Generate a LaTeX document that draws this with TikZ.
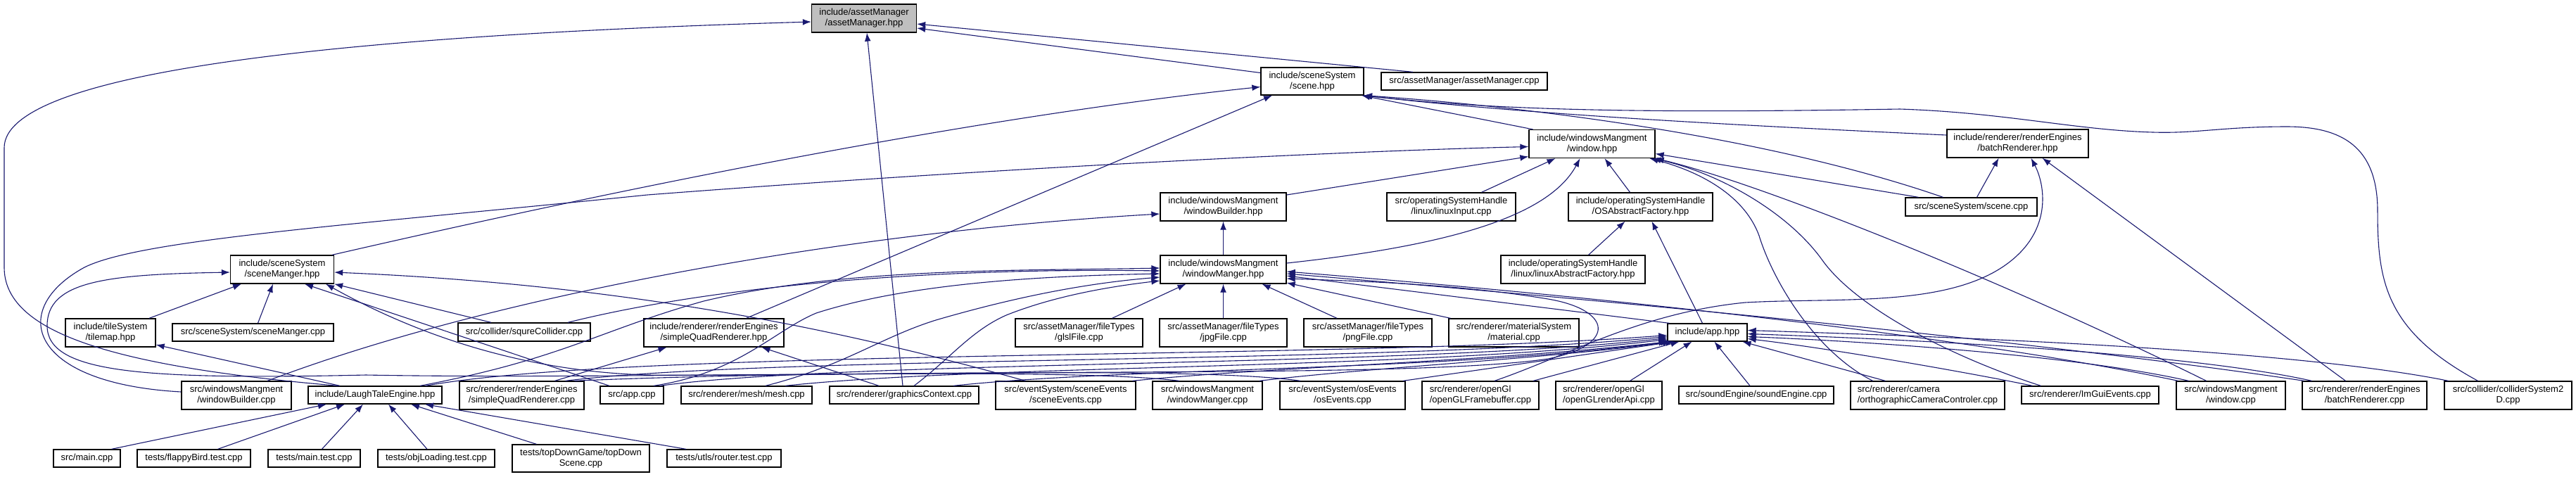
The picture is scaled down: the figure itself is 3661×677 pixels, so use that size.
\documentclass[tikz,border=0pt]{standalone}
\usepackage{fontspec}
\setmainfont{Liberation Sans}
\usetikzlibrary{arrows.meta}
\definecolor{edgeblue}{RGB}{25,25,112}
\definecolor{rootgray}{RGB}{191,191,191}
\newcommand{\ptN}[2]{([shift={(#2,0)}]#1.north)}
\newcommand{\ptS}[2]{([shift={(#2,0)}]#1.south)}
\newcommand{\ptW}[2]{([shift={(0,#2)}]#1.west)}
\newcommand{\ptE}[2]{([shift={(0,#2)}]#1.east)}
\begin{document}
\begin{tikzpicture}[x=0.5pt,y=-0.5pt,
  box/.style={draw=black,line width=0.65pt,fill=white,rectangle,inner sep=0pt,align=center,font=\fontsize{6.5}{7.5}\selectfont},
  lbox/.style={box,align=left},
  edge/.style={draw=edgeblue,line width=0.55pt,-{Latex[length=6pt,width=4.4pt]}},
]
\fill[white] (0,0) rectangle (3661,677);
\useasboundingbox (0,0) rectangle (3661,677);

% ---------- nodes ----------
\node[box,fill=rootgray,minimum width=74.5pt,minimum height=20pt] (am) at (1228,26) {include/assetManager\\/assetManager.hpp};
\node[box,minimum width=73pt,minimum height=19.5pt] (sc) at (1865,115.5) {include/sceneSystem\\/scene.hpp};
\node[box,minimum width=118pt,minimum height=12.5pt] (amcpp) at (2081,115.5) {src/assetManager/assetManager.cpp};
\node[box,minimum width=89.5pt,minimum height=20pt] (win) at (2262.5,204.5) {include/windowsMangment\\/window.hpp};
\node[box,minimum width=100.5pt,minimum height=20pt] (br) at (2867.5,204) {include/renderer/renderEngines\\/batchRenderer.hpp};
\node[box,minimum width=89.5pt,minimum height=20pt] (wbh) at (1738.5,294) {include/windowsMangment\\/windowBuilder.hpp};
\node[box,minimum width=91.5pt,minimum height=20pt] (lin) at (2062.5,294) {src/operatingSystemHandle\\/linux/linuxInput.cpp};
\node[box,minimum width=102.5pt,minimum height=20pt] (osf) at (2331.5,294) {include/operatingSystemHandle\\/OSAbstractFactory.hpp};
\node[box,minimum width=93.5pt,minimum height=13pt] (scpp) at (2801.5,294) {src/sceneSystem/scene.cpp};
\node[box,minimum width=73.5pt,minimum height=20pt] (smh) at (401,383) {include/sceneSystem\\/sceneManger.hpp};
\node[box,minimum width=89.5pt,minimum height=20pt] (wmh) at (1738.5,383) {include/windowsMangment\\/windowManger.hpp};
\node[box,minimum width=102.5pt,minimum height=20pt] (laf) at (2235.5,383) {include/operatingSystemHandle\\/linux/linuxAbstractFactory.hpp};
\node[box,minimum width=64pt,minimum height=20pt] (tm) at (157,473) {include/tileSystem\\/tilemap.hpp};
\node[box,minimum width=114.5pt,minimum height=12.5pt] (smcpp) at (359.5,472.5) {src/sceneSystem/sceneManger.cpp};
\node[box,minimum width=94pt,minimum height=13pt] (sq) at (745,472) {src/collider/squreCollider.cpp};
\node[box,minimum width=99.5pt,minimum height=20pt] (sqh) at (1014.5,473) {include/renderer/renderEngines\\/simpleQuadRenderer.hpp};
\node[box,minimum width=90.5pt,minimum height=20pt] (gl) at (1533.5,473) {src/assetManager/fileTypes\\/glslFile.cpp};
\node[box,minimum width=90.5pt,minimum height=20pt] (jpg) at (1738.5,473) {src/assetManager/fileTypes\\/jpgFile.cpp};
\node[box,minimum width=91pt,minimum height=20pt] (png) at (1944,473) {src/assetManager/fileTypes\\/pngFile.cpp};
\node[box,minimum width=92.5pt,minimum height=20pt] (mat) at (2151.5,473) {src/renderer/materialSystem\\/material.cpp};
\node[box,minimum width=56.5pt,minimum height=12.5pt] (app) at (2426.5,472.5) {include/app.hpp};
\node[box,minimum width=78pt,minimum height=20pt] (wbcpp) at (336,562) {src/windowsMangment\\/windowBuilder.cpp};
\node[box,minimum width=95pt,minimum height=12.5pt] (lte) at (533,561.5) {include/LaughTaleEngine.hpp};
\node[box,minimum width=88.5pt,minimum height=20pt] (sqcpp) at (741.5,562) {src/renderer/renderEngines\\/simpleQuadRenderer.cpp};
\node[box,minimum width=45pt,minimum height=12.5pt] (appcpp) at (898,561.5) {src/app.cpp};
\node[box,minimum width=93pt,minimum height=12.5pt] (mesh) at (1061,561.5) {src/renderer/mesh/mesh.cpp};
\node[box,minimum width=106pt,minimum height=12.5pt] (gc) at (1285,561.5) {src/renderer/graphicsContext.cpp};
\node[box,minimum width=99.5pt,minimum height=20pt] (se) at (1514.5,562) {src/eventSystem/sceneEvents\\/sceneEvents.cpp};
\node[box,minimum width=78pt,minimum height=20pt] (wmcpp) at (1716,562) {src/windowsMangment\\/windowManger.cpp};
\node[box,minimum width=89pt,minimum height=20pt] (ose) at (1908,562) {src/eventSystem/osEvents\\/osEvents.cpp};
\node[lbox,minimum width=83pt,minimum height=20pt] (fb) at (2104,562) {src/renderer/openGl\\/openGLFramebuffer.cpp};
\node[lbox,minimum width=75.5pt,minimum height=20pt] (ra) at (2286.5,562) {src/renderer/openGl\\/openGLrenderApi.cpp};
\node[box,minimum width=110pt,minimum height=12.5pt] (snd) at (2496,561.5) {src/soundEngine/soundEngine.cpp};
\node[lbox,minimum width=109.5pt,minimum height=20pt] (cam) at (2739.5,562) {src/renderer/camera\\/orthographicCameraControler.cpp};
\node[box,minimum width=97.5pt,minimum height=12.5pt] (imgui) at (2970.5,561.5) {src/renderer/ImGuiEvents.cpp};
\node[box,minimum width=77.5pt,minimum height=20pt] (wcpp) at (3170.5,562) {src/windowsMangment\\/window.cpp};
\node[box,minimum width=88.5pt,minimum height=20pt] (brcpp) at (3360.5,562) {src/renderer/renderEngines\\/batchRenderer.cpp};
\node[box,minimum width=90.5pt,minimum height=20pt] (col) at (3564.5,562) {src/collider/colliderSystem2\\D.cpp};
\node[box,minimum width=47.5pt,minimum height=12.5pt] (main) at (123.5,651.5) {src/main.cpp};
\node[box,minimum width=80.5pt,minimum height=12.5pt] (fbt) at (275.5,651.5) {tests/flappyBird.test.cpp};
\node[box,minimum width=65.5pt,minimum height=12.5pt] (mt) at (446.5,651.5) {tests/main.test.cpp};
\node[box,minimum width=83pt,minimum height=12.5pt] (obj) at (620,651.5) {tests/objLoading.test.cpp};
\node[box,minimum width=97.5pt,minimum height=19.5pt] (td) at (825.5,651.5) {tests/topDownGame/topDown\\Scene.cpp};
\node[box,minimum width=81pt,minimum height=12.5pt] (rt) at (1029,651.5) {tests/utls/router.test.cpp};

% ---------- edges into assetManager.hpp ----------
\draw[edge] \ptN{lte}{-53} .. controls (150,520) and (6,470) .. (6,380) -- (6,210) .. controls (6,100) and (500,50) .. \ptW{am}{5};
\draw[edge] \ptW{sc}{-12} -- \ptE{am}{14};
\draw[edge] \ptN{amcpp}{-73} -- \ptE{am}{8};
\draw[edge] \ptN{gc}{-2} -- \ptS{am}{4};

% ---------- edges into scene.hpp ----------
\draw[edge] \ptN{smh}{71} .. controls (700,310) and (1300,175) .. \ptW{sc}{8};
\draw[edge] \ptN{sqh}{46} -- \ptS{sc}{-57};
\draw[edge] \ptN{win}{-84} -- \ptS{sc}{70};
\draw[edge] \ptW{br}{-12} .. controls (2400,175) and (2150,160) .. \ptS{sc}{72};
\draw[edge] \ptN{scpp}{-40} .. controls (2500,190) and (2150,150) .. \ptS{sc}{73};
\draw[edge] \ptN{col}{-43} .. controls (3390,470) and (3379,400) .. (3379,300) .. controls (3379,210) and (3330,180) .. (3250,180) .. controls (3160,180) and (3120,190) .. (3060,188) .. controls (2950,185) and (2850,160) .. (2700,155) .. controls (2400,160) and (2150,160) .. \ptS{sc}{73};

% ---------- edges into window.hpp ----------
\draw[edge] \ptW{wbcpp}{-5} .. controls (40,545) and (10,440) .. (120,380) .. controls (200,340) and (500,320) .. (920,277) .. controls (1400,240) and (1900,215) .. \ptW{win}{4};
\draw[edge] \ptE{wbh}{-17} -- \ptW{win}{18};
\draw[edge] \ptN{lin}{43} -- \ptS{win}{-52};
\draw[edge] \ptE{wmh}{-9} .. controls (2050,350) and (2200,310) .. \ptS{win}{-17};
\draw[edge] \ptN{osf}{-15} -- \ptS{win}{18};
\draw[edge] \ptN{scpp}{-75} -- \ptE{win}{14};
\draw[edge] \ptN{cam}{-78} .. controls (2580,500) and (2520,400) .. (2500,335) .. controls (2480,280) and (2420,245) .. \ptS{win}{82};
\draw[edge] \ptN{imgui}{-70} .. controls (2780,510) and (2640,440) .. (2590,370) .. controls (2540,300) and (2440,245) .. \ptS{win}{86};
\draw[edge] \ptN{wcpp}{-35} .. controls (2850,400) and (2500,260) .. (win.south east);

% ---------- edges into batchRenderer.hpp ----------
\draw[edge] \ptN{scpp}{8} -- \ptS{br}{-27};
\draw[edge] \ptN{brcpp}{-27} -- \ptS{br}{35};
\draw[edge] \ptN{fb}{20} .. controls (2230,505) and (2330,445) .. (2480,430) .. controls (2620,422) and (2790,440) .. (2870,360) .. controls (2915,315) and (2905,260) .. \ptS{br}{19};

% ---------- tilemap / sceneManger ----------
\draw[edge] \ptN{lte}{-50} -- \ptE{tm}{17};
\draw[edge] \ptN{tm}{55} -- \ptS{smh}{-58};
\draw[edge] \ptN{smcpp}{7} -- \ptS{smh}{-13};
\draw[edge] \ptN{appcpp}{-32} -- \ptS{smh}{32};
\draw[edge] \ptN{sq}{-47} -- (smh.south east);
\draw[edge] \ptN{se}{-57} .. controls (1200,470) and (900,405) .. \ptE{smh}{4};
\draw[edge] \ptN{ose}{-60} .. controls (1700,520) and (1200,535) .. (920,533) .. controls (750,528) and (600,480) .. \ptS{smh}{62};
\draw[edge] \ptN{wmcpp}{-40} .. controls (1500,520) and (900,540) .. (520,533) .. controls (200,540) and (67,530) .. (67,463) .. controls (67,400) and (150,390) .. \ptW{smh}{4};

% ---------- simpleQuadRenderer.hpp ----------
\draw[edge] \ptN{sqcpp}{47} -- \ptS{sqh}{-67};
\draw[edge] \ptN{gc}{-36} -- \ptS{sqh}{68};

% ---------- windowBuilder.hpp ----------
\draw[edge] \ptN{wbcpp}{44} .. controls (700,420) and (1200,330) .. \ptW{wbh}{10};
\draw[edge] (wmh.north) -- (wbh.south);

% ---------- OSAbstractFactory.hpp ----------
\draw[edge] \ptN{laf}{22} -- \ptS{osf}{-22};
\draw[edge] \ptN{app}{-7} -- \ptS{osf}{16};

% ---------- windowManger.hpp ----------
\draw[edge] \ptN{gl}{47} -- \ptS{wmh}{-53};
\draw[edge] (jpg.north) -- (wmh.south);
\draw[edge] \ptN{png}{-44} -- \ptS{wmh}{55};
\draw[edge] \ptN{mat}{-90} -- \ptE{wmh}{19};
\draw[edge] \ptN{app}{-54} -- \ptE{wmh}{9};
\draw[edge] \ptN{wcpp}{-75} .. controls (2900,500) and (2500,440) .. \ptE{wmh}{3};
\draw[edge] \ptN{brcpp}{-86} .. controls (3000,500) and (2500,445) .. \ptE{wmh}{6};
\draw[edge] \ptN{sqcpp}{75} .. controls (1300,520) and (2000,540) .. (2200,510) .. controls (2300,490) and (2290,440) .. (2200,425) .. controls (2080,405) and (1950,400) .. \ptE{wmh}{13};
\draw[edge] \ptN{lte}{64} .. controls (800,510) and (850,470) .. (1000,428) .. controls (1200,380) and (1450,385) .. \ptW{wmh}{-2};
\draw[edge] \ptN{sq}{62} .. controls (1000,410) and (1300,380) .. \ptW{wmh}{2};
\draw[edge] \ptN{appcpp}{31} .. controls (1050,530) and (1100,470) .. (1160,445) .. controls (1300,400) and (1500,392) .. \ptW{wmh}{6};
\draw[edge] \ptN{mesh}{27} .. controls (1200,520) and (1250,480) .. (1330,455) .. controls (1450,420) and (1550,402) .. \ptW{wmh}{11};
\draw[edge] \ptN{gc}{14} .. controls (1350,510) and (1380,470) .. (1430,448) .. controls (1500,420) and (1580,407) .. \ptW{wmh}{16};

% ---------- app.hpp ----------
\draw[edge] \ptN{lte}{72} .. controls (900,495) and (1900,512) .. \ptW{app}{4};
\draw[edge] \ptN{sqcpp}{62} .. controls (1100,505) and (1950,518) .. \ptW{app}{6};
\draw[edge] \ptN{appcpp}{40} .. controls (1200,512) and (2000,522) .. \ptW{app}{8};
\draw[edge] \ptN{mesh}{55} .. controls (1400,518) and (2000,526) .. \ptW{app}{10};
\draw[edge] \ptN{gc}{70} .. controls (1600,522) and (2050,528) .. (app.south west);
\draw[edge] \ptN{se}{95} .. controls (1800,522) and (2100,515) .. \ptS{app}{-54};
\draw[edge] \ptN{wmcpp}{74} .. controls (1950,522) and (2200,510) .. \ptS{app}{-51};
\draw[edge] \ptN{ose}{86} -- \ptS{app}{-47};
\draw[edge] \ptN{fb}{75} -- \ptS{app}{-40};
\draw[edge] \ptN{ra}{30} -- \ptS{app}{-22};
\draw[edge] \ptN{snd}{-9} -- \ptS{app}{10};
\draw[edge] \ptN{cam}{-60} -- \ptS{app}{50};
\draw[edge] \ptN{imgui}{-82} .. controls (2800,530) and (2600,495) .. \ptE{app}{9};
\draw[edge] \ptN{wcpp}{-60} .. controls (2950,505) and (2650,485) .. \ptE{app}{6};
\draw[edge] \ptN{brcpp}{-75} .. controls (3100,500) and (2700,482) .. \ptE{app}{2};
\draw[edge] \ptN{col}{-85} .. controls (3250,495) and (2750,478) .. \ptE{app}{-3};

% ---------- LaughTaleEngine.hpp ----------
\draw[edge] \ptN{main}{35} -- \ptS{lte}{-69};
\draw[edge] \ptN{fbt}{34} -- \ptS{lte}{-43};
\draw[edge] \ptN{mt}{11} -- \ptS{lte}{-17};
\draw[edge] \ptN{obj}{-13} -- \ptS{lte}{19};
\draw[edge] \ptN{td}{-63} -- \ptS{lte}{51};
\draw[edge] \ptN{rt}{-54} -- \ptS{lte}{71};
\end{tikzpicture}
\end{document}
